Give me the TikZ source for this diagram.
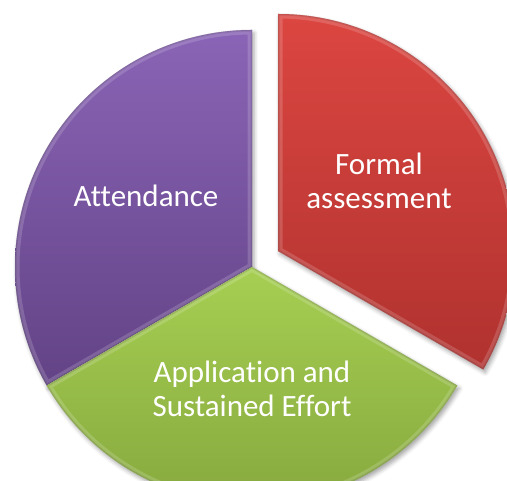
\documentclass[tikz,border=0pt]{standalone}
\usepackage{fontspec}
\setmainfont{Carlito}[Ligatures=NoCommon]
\usetikzlibrary{shadows.blur}

% slice colours (top and bottom of the vertical gradient)
\definecolor{redtop}{HTML}{DC4641}
\definecolor{redbot}{HTML}{B0322F}
\definecolor{purtop}{HTML}{8A64B6}
\definecolor{purbot}{HTML}{634386}
\definecolor{grntop}{HTML}{A6CF52}
\definecolor{grnbot}{HTML}{83A43C}

\tikzset{
  slicebase/.style={fill=white, blur shadow={shadow xshift=2pt, shadow yshift=-3pt,
      shadow blur radius=4pt, shadow opacity=35}},
  label/.style={text=white, align=center, inner sep=0pt,
      font=\fontsize{31}{34.5}\selectfont},
}

% one bevelled pie slice: #1 centre, #2 start angle, #3 end angle, #4 top colour, #5 bottom colour
\newcommand{\pieslice}[5]{%
  \path[slicebase] #1 -- ++(#2:237) arc (#2:#3:237) -- cycle;
  \shade[top color=#4, bottom color=#5] #1 -- ++(#2:237) arc (#2:#3:237) -- cycle;
  \begin{scope}
    \clip #1 -- ++(#2:237) arc (#2:#3:237) -- cycle;
    \draw[white, opacity=0.16, line width=9pt, line join=round] #1 -- ++(#2:237) arc (#2:#3:237) -- cycle;
    \draw[black, opacity=0.10, line width=3pt, line join=round] #1 -- ++(#2:237) arc (#2:#3:237) -- cycle;
  \end{scope}
  \draw[#5!70!black, opacity=0.25, line width=0.5pt, line join=round] #1 -- ++(#2:237) arc (#2:#3:237) -- cycle;
}

\begin{document}
\begin{tikzpicture}[x=1pt, y=1pt]
  \useasboundingbox (0,0) rectangle (507,481);

  \coordinate (c) at (252,214);
  \coordinate (cr) at (278,230);

  % purple and green slices, then the pulled-out red one
  \pieslice{(c)}{90}{210}{purtop}{purbot}
  \pieslice{(c)}{210}{330}{grntop}{grnbot}
  \pieslice{(cr)}{-30}{90}{redtop}{redbot}

  \node[label] (attendance) at (146,285) {Attendance};
  \node[label] (formal) at (379,300) {Formal\\assessment};
  \node[label] (application) at (252,92) {Application and\\Sustained Effort};
\end{tikzpicture}
\end{document}
